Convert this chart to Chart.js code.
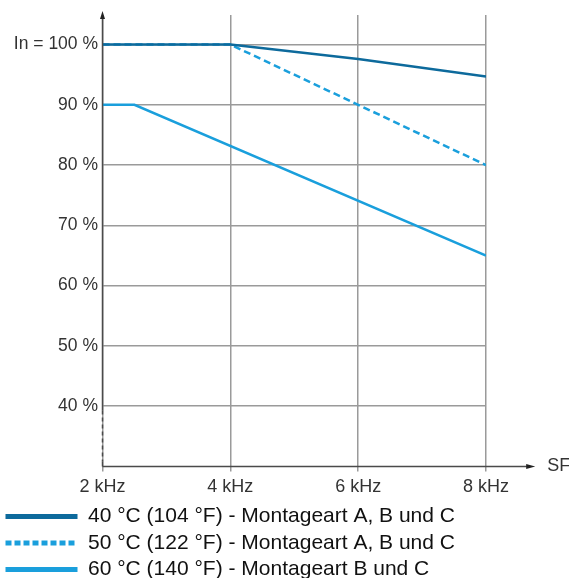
<!DOCTYPE html>
<html>
<head>
<meta charset="utf-8">
<script src="https://cdn.jsdelivr.net/npm/chart.js@4.4.1/dist/chart.umd.min.js"></script>
<style>
  html, body { margin: 0; padding: 0; background: #fff; overflow: hidden; }
  #wrap { width: 569px; height: 590px; }
</style>
</head>
<body>
<div id="wrap"><canvas id="deratingChart"></canvas></div>
<script>
// tick values
const freqTicks = [2, 4, 6, 8];
const pctTicks = [40, 50, 60, 70, 80, 90, 100];

// derating curves (switching frequency kHz -> % of In)
const curve40x = [2, 4, 6, 8];
const curve40y = [100, 100, 97.6, 94.7];
const curve50x = [2, 4, 6, 8];
const curve50y = [100, 100, 90, 80];
const curve60x = [2, 2.5, 8];
const curve60y = [90, 90, 65];

const seriesLabels = [
    '40 °C (104 °F) - Montageart A, B und C',
    '50 °C (122 °F) - Montageart A, B und C',
    '60 °C (140 °F) - Montageart B und C'
];

const FONT = '"Liberation Sans", Arial, Helvetica, sans-serif';

function toPoints(xs, ys) {
    return xs.map((x, i) => ({ x: x, y: ys[i] }));
}

// Axis lines with arrows, dashed break on the y axis, "SF" label
const axisArrows = {
    id: 'axisArrows',
    afterDatasetsDraw(chart) {
        const { ctx, chartArea, scales } = chart;
        const x0 = chartArea.left;
        const y0 = chartArea.bottom;
        const yBreak = scales.y.getPixelForValue(39.3);
        const yTop = chartArea.top - 4;
        const xEnd = scales.x.getPixelForValue(8.77);

        ctx.save();
        ctx.strokeStyle = '#4a4a4a';
        ctx.fillStyle = '#222';
        ctx.lineWidth = 1.5;

        // y axis
        ctx.beginPath();
        ctx.moveTo(x0, yTop + 6);
        ctx.lineTo(x0, yBreak);
        ctx.stroke();
        ctx.setLineDash([4, 3]);
        ctx.beginPath();
        ctx.moveTo(x0, yBreak);
        ctx.lineTo(x0, y0 - 5);
        ctx.stroke();
        ctx.setLineDash([]);
        ctx.beginPath();
        ctx.moveTo(x0, y0 - 5);
        ctx.lineTo(x0, y0);
        ctx.stroke();

        ctx.beginPath();
        ctx.moveTo(x0, yTop);
        ctx.lineTo(x0 - 2.5, yTop + 8);
        ctx.lineTo(x0 + 2.5, yTop + 8);
        ctx.closePath();
        ctx.fill();

        // x axis
        ctx.beginPath();
        ctx.moveTo(x0, y0);
        ctx.lineTo(xEnd - 6, y0);
        ctx.stroke();
        ctx.beginPath();
        ctx.moveTo(xEnd, y0);
        ctx.lineTo(xEnd - 9, y0 - 2.5);
        ctx.lineTo(xEnd - 9, y0 + 2.5);
        ctx.closePath();
        ctx.fill();

        ctx.fillStyle = '#333';
        ctx.font = '18px ' + FONT;
        ctx.textAlign = 'left';
        ctx.textBaseline = 'middle';
        ctx.fillText('SF', xEnd + 12, y0);
        ctx.restore();
    }
};

const chart = new Chart(document.getElementById('deratingChart'), {
    type: 'line',
    data: {
        datasets: [{
            label: seriesLabels[0],
            data: toPoints(curve40x, curve40y),
            borderColor: '#0d6a9c',
            backgroundColor: '#0d6a9c',
            borderWidth: 2.5
        }, {
            label: seriesLabels[1],
            data: toPoints(curve50x, curve50y),
            borderColor: '#1a9fdc',
            backgroundColor: '#1a9fdc',
            borderWidth: 2.5,
            borderDash: [7, 4]
        }, {
            label: seriesLabels[2],
            data: toPoints(curve60x, curve60y),
            borderColor: '#1a9fdc',
            backgroundColor: '#1a9fdc',
            borderWidth: 2.5
        }]
    },
    options: {
        responsive: true,
        maintainAspectRatio: false,
        animation: false,
        layout: { padding: { top: 13, right: 83, left: 0, bottom: 0 } },
        elements: {
            point: { radius: 0 },
            line: { tension: 0 }
        },
        scales: {
            x: {
                type: 'linear',
                min: 2,
                max: 8,
                afterBuildTicks: scale => { scale.ticks = freqTicks.map(v => ({ value: v })); },
                afterFit: scale => { scale.height = 34; },
                border: { display: false },
                grid: { color: '#9a9a9a', lineWidth: 1.5, drawTicks: true, tickLength: 5 },
                ticks: {
                    color: '#333',
                    padding: 5,
                    font: { family: FONT, size: 18 },
                    callback: v => v + ' kHz'
                }
            },
            y: {
                min: 30,
                max: 104.9,
                afterBuildTicks: scale => { scale.ticks = pctTicks.map(v => ({ value: v })); },
                afterFit: scale => { scale.width = 102.5; },
                border: { display: false },
                grid: { color: '#9a9a9a', lineWidth: 1.5, drawTicks: false },
                ticks: {
                    color: '#333',
                    padding: 4.5,
                    font: { family: FONT, size: 17.5 },
                    callback: v => (v === 100 ? 'In = 100 %' : v + ' %')
                }
            }
        },
        plugins: {
            tooltip: { enabled: false },
            legend: {
                position: 'bottom',
                align: 'start',
                labels: {
                    usePointStyle: true,
                    pointStyle: 'line',
                    pointStyleWidth: 72,
                    boxHeight: 21,
                    padding: 5.5,
                    color: '#111',
                    font: { family: FONT, size: 21 },
                    generateLabels: c => {
                        const items = Chart.defaults.plugins.legend.labels.generateLabels(c);
                        items.forEach(it => {
                            const ds = c.data.datasets[it.datasetIndex];
                            it.pointStyle = 'line';
                            it.lineWidth = 5;
                            it.strokeStyle = ds.borderColor;
                            it.lineDash = ds.borderDash ? [6, 3] : [];
                        });
                        return items;
                    }
                }
            }
        }
    },
    plugins: [axisArrows]
});
</script>
</body>
</html>
